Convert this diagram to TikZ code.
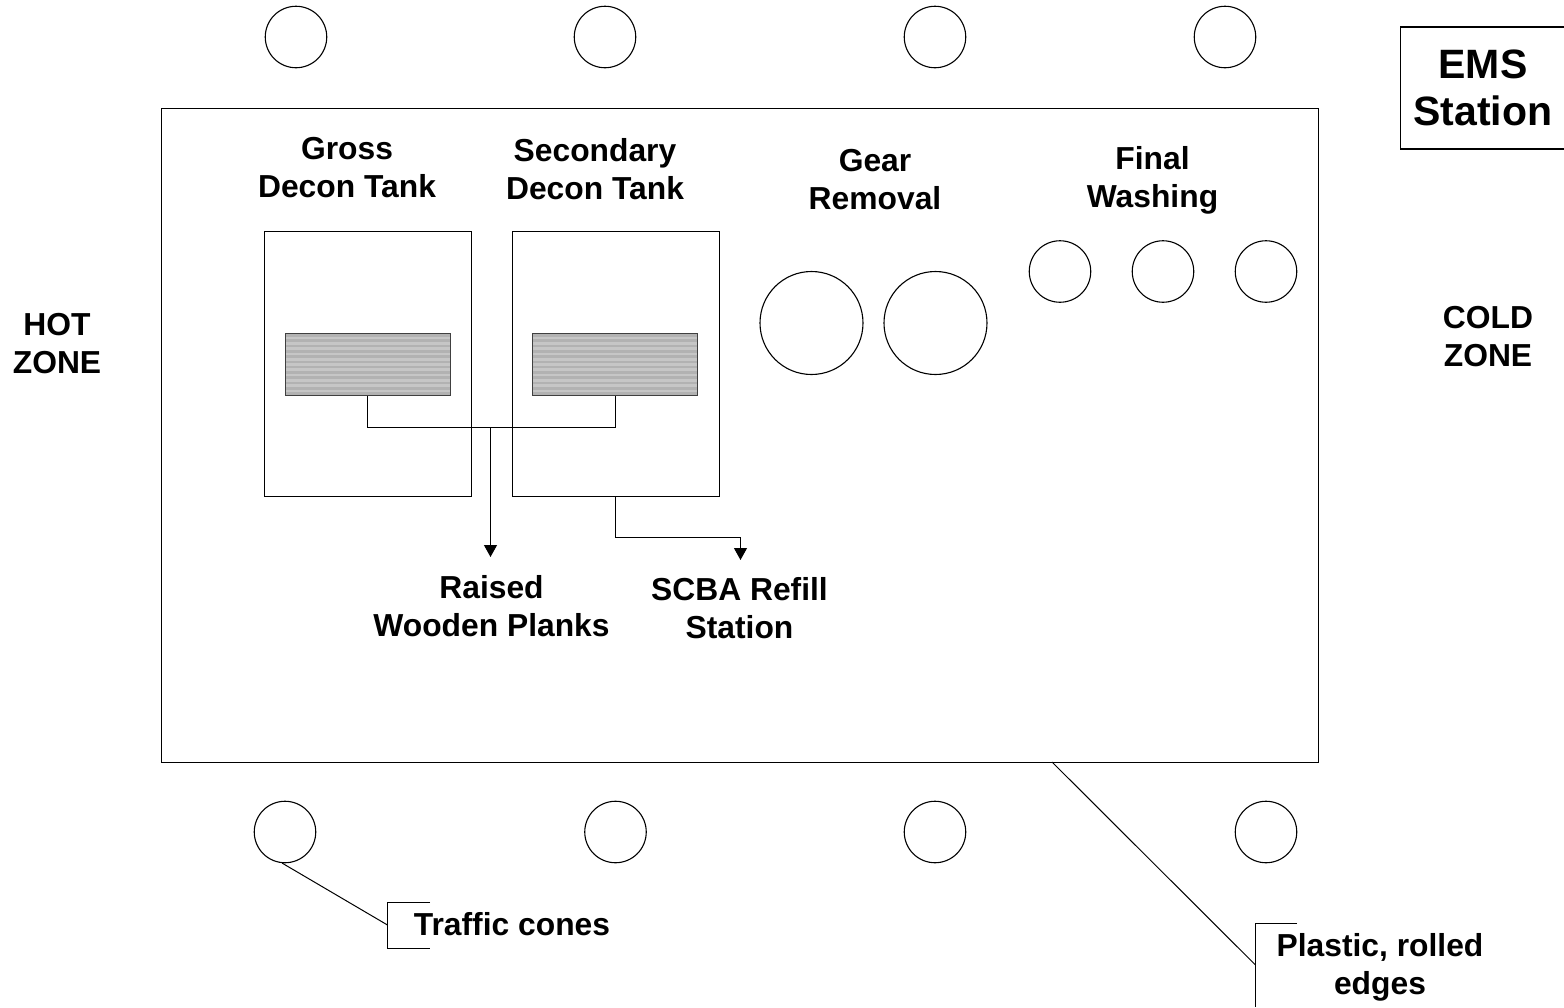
\documentclass[tikz,border=0pt]{standalone}
\usepackage{fontspec}
\setmainfont{Liberation Sans}
\usetikzlibrary{arrows.meta}
\definecolor{stripeA}{HTML}{B2B2B2}
\definecolor{stripeB}{HTML}{C6C6C6}
\tikzset{
  x=1pt,y=-1pt,
  ln/.style={draw=black,line width=1.1pt},
  cone/.style={circle,ln,inner sep=0pt,minimum size=61.5pt},
  bigcone/.style={circle,ln,inner sep=0pt,minimum size=103pt},
  boxn/.style={rectangle,ln,inner sep=0pt,anchor=north west},
  lab/.style={font=\bfseries\fontsize{31.8}{38}\selectfont,align=center,inner sep=0pt},
  biglab/.style={font=\bfseries\fontsize{41}{47}\selectfont,align=center,inner sep=0pt},
  arr/.style={ln,-{Triangle[length=12pt,width=13pt]}},
  hatch/.style={rectangle,ln,draw=black!75,anchor=north west,inner sep=0pt,minimum width=165pt,minimum height=62pt,fill=stripeB,
    path picture={
      \foreach \i in {0,...,11}{
        \fill[stripeA] ([yshift=-\i*5.3pt-1pt]path picture bounding box.north west) rectangle ([yshift=-\i*5.3pt-3.6pt]path picture bounding box.north east);
      }
    }},
}
\begin{document}
\begin{tikzpicture}
\useasboundingbox (0,0) rectangle (1564,1007);
\node[boxn,minimum width=1157pt,minimum height=654pt] (sheet) at (160.5,107.8) {};
\node[boxn,minimum width=207pt,minimum height=265pt] (tankA) at (263.8,230.5) {};
\node[boxn,minimum width=207pt,minimum height=265pt] (tankB) at (511.8,230.5) {};
\node[hatch] (plankA) at (284.5,332.5) {};
\node[hatch] (plankB) at (532,332.5) {};
% cones
\foreach \n/\x/\y in {t1/296/37,t2/605/37,t3/935/37,t4/1225/37,b1/285/832,b2/615.5/832,b3/935/832,b4/1266/832,w1/1060/271.5,w2/1163/271.5,w3/1266/271.5}{
  \node[cone] (\n) at (\x,\y) {};
}
\node[bigcone] (g1) at (811.5,323) {};
\node[bigcone] (g2) at (935.5,323) {};
% labels
\node[lab] (lgross) at (347,168) {Gross\\Decon Tank};
\node[lab] (lsec) at (595,169) {Secondary\\Decon Tank};
\node[lab] (lgear) at (875,180) {Gear\\Removal};
\node[lab] (lfinal) at (1152.5,180) {Final\\Washing};
\node[lab] (lhot) at (57,344) {HOT\\ZONE};
\node[lab] (lcold) at (1488,337) {COLD\\ZONE};
\node[lab] (lplanks) at (491.5,606) {Raised\\Wooden Planks};
\node[lab] (lscba) at (739.5,608) {SCBA Refill\\Station};
\node[lab] (ltraffic) at (512,924) {Traffic cones};
\node[lab] (lplastic) at (1380,967) {Plastic, rolled\\edges};
\node[biglab] (lems) at (1483,88) {EMS\\Station};
% EMS box, open on the right
\coordinate (emsTR) at (1564,27);
\coordinate (emsTL) at (1400.5,27);
\coordinate (emsBL) at (1400.5,149);
\coordinate (emsBR) at (1564,149);
\draw[ln] (emsTR) -- (emsTL) -- (emsBL) -- (emsBR);
% plank connectors
\coordinate (join) at (490.5,427.5);
\coordinate (planksTip) at (490.5,557);
\coordinate (scbaTip) at (740.5,560);
\coordinate (scbaBend) at (740.5,537.5);
\draw[ln] (plankA.south) -- (plankA.south |- join) -- (plankB.south |- join) -- (plankB.south);
\draw[arr] (join) -- (planksTip);
\draw[arr] (tankB.south) |- (scbaBend) -- (scbaTip);
% callouts
\coordinate (tbT) at (430,902.5);
\coordinate (tbTL) at (387.5,902.5);
\coordinate (tbBL) at (387.5,948.5);
\coordinate (tbB) at (430,948.5);
\coordinate (tbM) at (387.5,925);
\draw[ln] (tbT) -- (tbTL) -- (tbBL) -- (tbB);
\draw[ln,line width=1pt] (b1.265) -- (tbM);
\coordinate (pbT) at (1297,923.5);
\coordinate (pbTL) at (1255.5,923.5);
\coordinate (pbBL) at (1255.5,1007);
\coordinate (pbM) at (1255.5,965);
\coordinate (sheetPt) at (1052,762);
\draw[ln] (pbT) -- (pbTL) -- (pbBL);
\draw[ln,line width=1pt] (sheetPt) -- (pbM);
\end{tikzpicture}
\end{document}
